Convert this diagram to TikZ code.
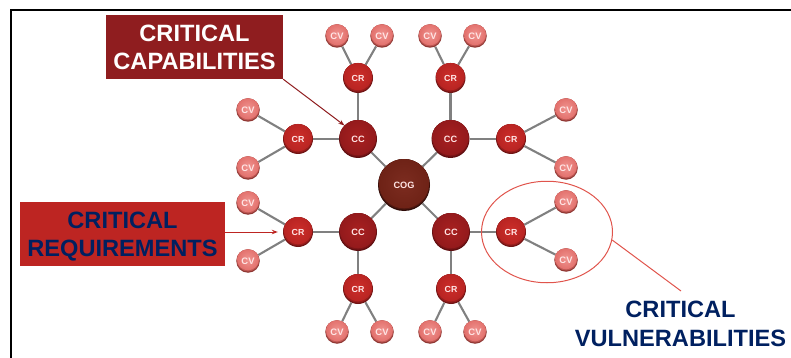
\documentclass[tikz,border=0pt]{standalone}
\usepackage{fontspec}
\setmainfont{Liberation Sans}
\usetikzlibrary{arrows.meta,shapes.geometric,backgrounds}
\definecolor{capbox}{HTML}{8F1D1F}
\definecolor{reqbox}{HTML}{BD2522}
\definecolor{navy}{HTML}{002060}
\definecolor{link}{HTML}{808080}
\definecolor{ring}{HTML}{E0544C}
\definecolor{coga}{HTML}{7C2C20}\definecolor{cogb}{HTML}{6E2216}\definecolor{cogc}{HTML}{2E0C08}
\definecolor{cca}{HTML}{A82020}\definecolor{ccb}{HTML}{931A1C}\definecolor{ccc}{HTML}{5E0E10}
\definecolor{cra}{HTML}{CC2E2A}\definecolor{crb}{HTML}{B82422}\definecolor{crc}{HTML}{701414}
\definecolor{cva}{HTML}{F09490}\definecolor{cvb}{HTML}{E2706C}\definecolor{cvc}{HTML}{8E3632}
% ballbody={inner colour}{outer colour}{rim colour}{radius in pt}{rim offset in pt}
\tikzset{
  x=1pt,y=-1pt,
  ball/.style={circle,inner sep=0pt,text=white!90!red},
  ballbody/.style n args={5}{
    fill=#3,
    path picture={
      \path (path picture bounding box.center) coordinate (bc);
      \fill[#2!55!#3] ([yshift=#5*0.5pt]bc) circle ({#4-#5*0.25});
      \shade[inner color=#1,outer color=#2] ([yshift=#5*1pt]bc) circle ({#4-#5*0.5});
    }},
  cog/.style={ball,ballbody={coga}{cogb}{cogc}{26}{1.8},minimum size=52pt,font=\bfseries\fontsize{9.2}{10}\selectfont},
  cc/.style={ball,ballbody={cca}{ccb}{ccc}{19}{1.8},minimum size=38pt,font=\bfseries\fontsize{9.2}{10}\selectfont},
  cr/.style={ball,ballbody={cra}{crb}{crc}{15}{1.8},minimum size=30pt,font=\bfseries\fontsize{8.8}{10}\selectfont},
  cv/.style={ball,ballbody={cva}{cvb}{cvc}{11.75}{1.6},minimum size=23.5pt,font=\bfseries\fontsize{9.4}{10}\selectfont},
  linkline/.style={draw=link,line width=2.1pt},
  labeltext/.style={inner sep=0pt,align=center,font=\bfseries\fontsize{23.6}{28.5}\selectfont},
  labelbox/.style={inner sep=0pt,minimum height=64pt},
}
\begin{document}
\begin{tikzpicture}
\useasboundingbox (0,0) rectangle (791,358);
\coordinate (fa) at (11.2,358);
\coordinate (fb) at (11.2,9.8);
\coordinate (fc) at (791,9.8);
\draw[line width=2pt,black] (fa) -- (fb) -- (fc);
% balls
\node[cog] (cog) at (404,185) {COG};
\node[cc] (cc1) at (358,139) {CC};
\node[cc] (cc2) at (450.5,139) {CC};
\node[cc] (cc3) at (358,232) {CC};
\node[cc] (cc4) at (451,232) {CC};
\node[cr] (cr1) at (358,78) {CR};
\node[cr] (cr2) at (450.5,78) {CR};
\node[cr] (cr3) at (298,139) {CR};
\node[cr] (cr4) at (511,139) {CR};
\node[cr] (cr5) at (298,232) {CR};
\node[cr] (cr6) at (511,232) {CR};
\node[cr] (cr7) at (358,289) {CR};
\node[cr] (cr8) at (451,289) {CR};
\node[cv] (cv1) at (337,36) {CV};
\node[cv] (cv2) at (382,36) {CV};
\node[cv] (cv3) at (430,36) {CV};
\node[cv] (cv4) at (475,36) {CV};
\node[cv] (cv5) at (248,110) {CV};
\node[cv] (cv6) at (248,168) {CV};
\node[cv] (cv7) at (566,110) {CV};
\node[cv] (cv8) at (566,168) {CV};
\node[cv] (cv9) at (248,203) {CV};
\node[cv] (cv10) at (248,261) {CV};
\node[cv] (cv11) at (566,202) {CV};
\node[cv] (cv12) at (566,260) {CV};
\node[cv] (cv13) at (337,332) {CV};
\node[cv] (cv14) at (382,332) {CV};
\node[cv] (cv15) at (430,332) {CV};
\node[cv] (cv16) at (475,332) {CV};
% links
\begin{scope}[on background layer]
\foreach \a/\b in {
 cog/cc1,cog/cc2,cog/cc3,cog/cc4,
 cc1/cr1,cc2/cr2,cc1/cr3,cc2/cr4,cc3/cr5,cc4/cr6,cc3/cr7,cc4/cr8,
 cr1/cv1,cr1/cv2,cr2/cv3,cr2/cv4,cr3/cv5,cr3/cv6,cr4/cv7,cr4/cv8,
 cr5/cv9,cr5/cv10,cr6/cv11,cr6/cv12,cr7/cv13,cr7/cv14,cr8/cv15,cr8/cv16}
 {\draw[linkline] (\a) -- (\b);}
\end{scope}
% label boxes
\node[labelbox,fill=capbox,minimum width=177pt] (capl) at (194.5,47) {};
\node[labeltext,text=white] (capt) at (194.5,47.6) {CRITICAL\\CAPABILITIES};
\node[labelbox,fill=reqbox,minimum width=205pt] (reql) at (122.5,234) {};
\node[labeltext,text=navy] (reqt) at (122.5,236.8) {CRITICAL\\REQUIREMENTS};
\node[labeltext,text=navy] (vull) at (680.5,324) {CRITICAL\\VULNERABILITIES};
% arrows
\draw[capbox,line width=1pt,-{Stealth[length=6pt,width=4.5pt]}] (capl.south east) -- (cc1.north west);
\draw[reqbox,line width=1pt,-{Stealth[length=6pt,width=4.5pt]},shorten >=5pt] (reql.east |- cr5) -- (cr5.west);
% ellipse callout
\node[draw=ring,line width=1pt,ellipse,minimum width=131pt,minimum height=101.5pt,inner sep=0pt] (vring) at (547,232) {};
\coordinate (vend) at (681,291);
\draw[ring,line width=1pt] (vring.-7) -- (vend);
\end{tikzpicture}
\end{document}
